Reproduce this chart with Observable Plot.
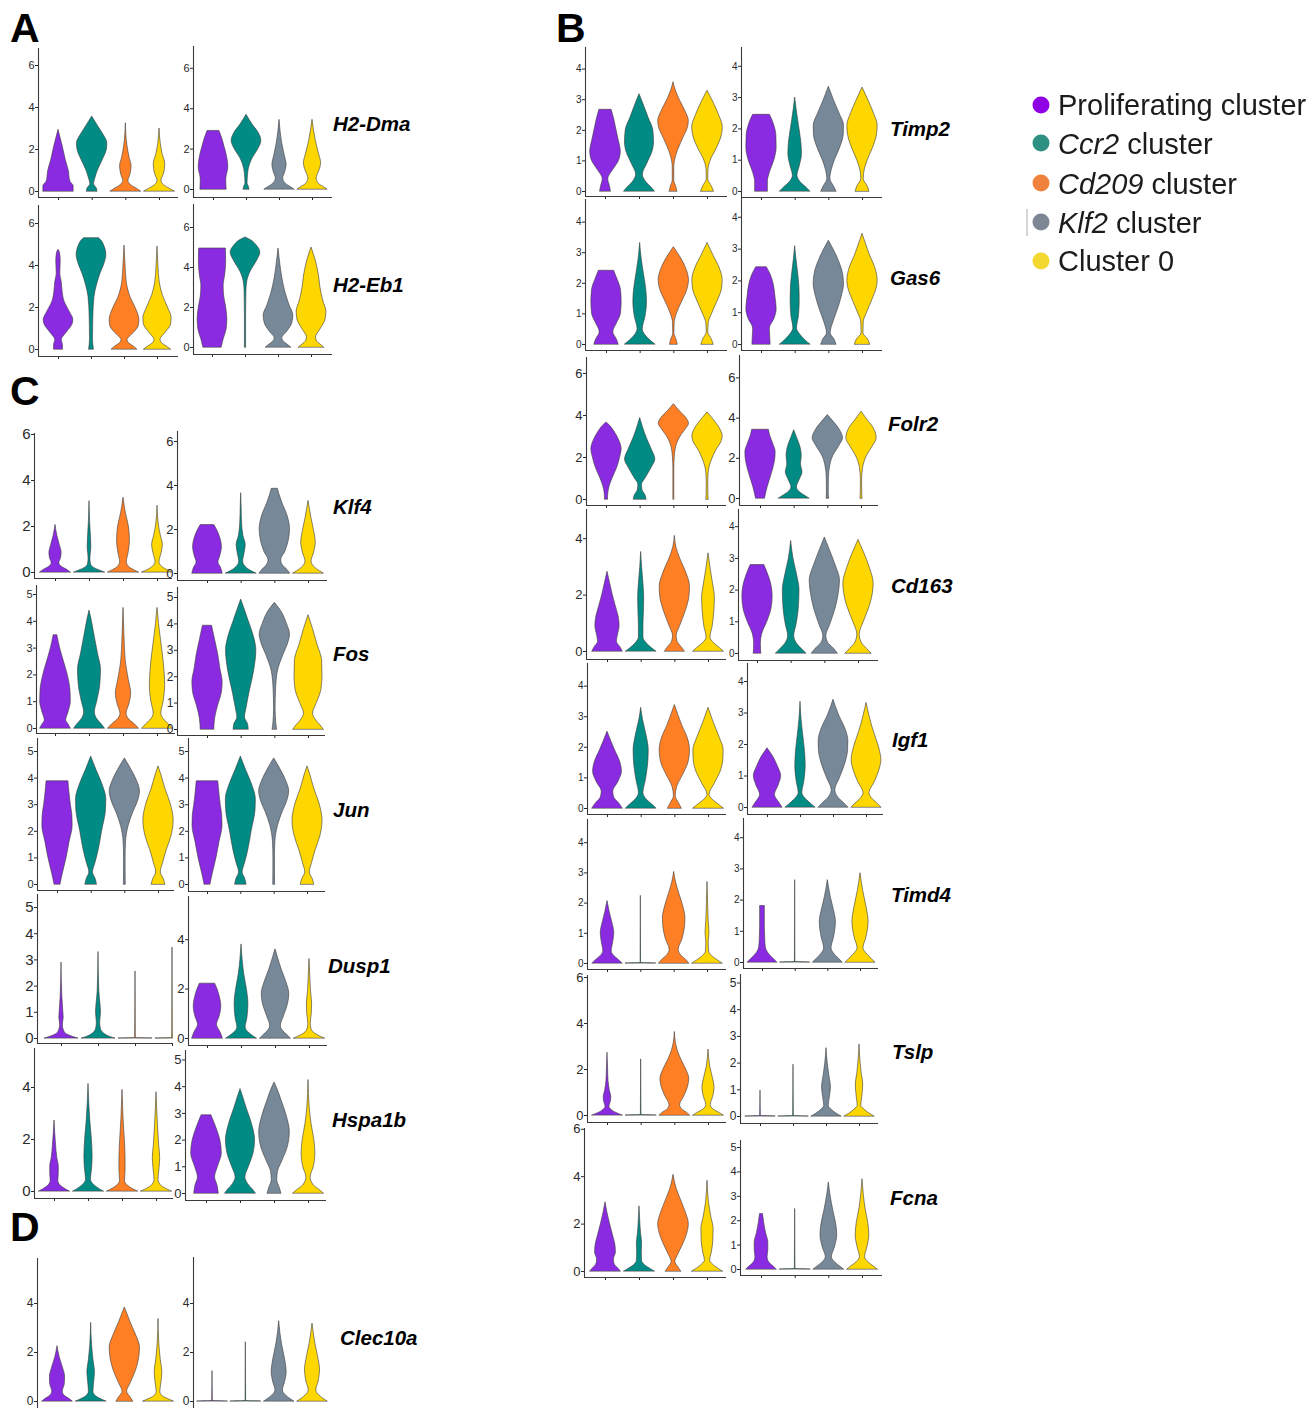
<!DOCTYPE html>
<html>
<head>
<meta charset="utf-8">
<script src="https://cdn.jsdelivr.net/npm/d3@7"></script>
<script src="https://cdn.jsdelivr.net/npm/@observablehq/plot@0.6"></script>
<style>
  body { margin: 0; background: #fff; }
  #fig { position: relative; width: 1313px; height: 1408px; overflow: hidden; background: #fff;
         font-family: "Liberation Sans", Arial, sans-serif; }
  #fig svg.violin { position: absolute; }
  #overlay { position: absolute; left: 0; top: 0; pointer-events: none; }
</style>
</head>
<body>
<div id="fig"></div>
<script>
// ---- clusters ----
const clusters = ["Proliferating cluster", "Ccr2 cluster", "Cd209 cluster", "Klf2 cluster", "Cluster 0"];
const clusterItalic = ["", "Ccr2", "Cd209", "Klf2", ""];
const clusterFill = ["#8a2be2", "#008b84", "#ff7f24", "#778899", "#ffd700"];
const legendFill = ["#8f00e4", "#2e8f83", "#f1823d", "#7d8793", "#f3d832"];

// cluster order used by each side of a gene
const LEFT = [0, 1, 2, 4];
const RIGHT = [0, 1, 3, 4];
const JUN_LEFT = [0, 1, 3, 4];

// y tick values
const ticksEven6 = [0, 2, 4, 6];
const ticksEven4 = [0, 2, 4];
const ticksTo4 = [0, 1, 2, 3, 4];
const ticksTo5 = [0, 1, 2, 3, 4, 5];

// ---- violin profiles: per cluster, [expression level, relative half-width] ----
const h2dmaL = [
  [[0,1],[0.25,1],[0.45,0.8],[0.6,0.74],[0.9,0.7],[1.5,0.48],[2.2,0.26],[2.94,0]],
  [[0,0.35],[0.15,0.3],[0.35,0.12],[0.6,0.2],[1.0,0.38],[1.5,0.7],[2.0,0.97],[2.3,1],[2.7,0.75],[3.1,0.4],[3.57,0]],
  [[0,1],[0.12,0.75],[0.3,0.35],[0.5,0.17],[0.8,0.3],[1.2,0.38],[1.6,0.25],[2.2,0.1],[3.25,0]],
  [[0,1],[0.12,0.7],[0.3,0.3],[0.5,0.13],[0.85,0.3],[1.3,0.38],[1.8,0.2],[2.3,0.08],[3.0,0]]
];
const h2dmaR = [
  [[0,0.88],[0.5,0.86],[1.1,1],[1.6,0.92],[2.1,0.75],[2.5,0.6],[2.9,0.4]],
  [[0,0.2],[0.15,0.15],[0.3,0.07],[0.7,0.1],[1.0,0.15],[1.5,0.38],[2.0,0.8],[2.4,1],[2.8,0.82],[3.2,0.42],[3.7,0]],
  [[0,1],[0.12,0.75],[0.3,0.4],[0.55,0.25],[0.85,0.38],[1.2,0.48],[1.7,0.35],[2.3,0.18],[3.45,0]],
  [[0,1],[0.12,0.75],[0.3,0.4],[0.55,0.28],[0.9,0.45],[1.3,0.58],[1.8,0.42],[2.5,0.2],[3.45,0]]
];
const h2eb1L = [
  [[0,0.3],[0.2,0.3],[0.45,0.22],[0.8,0.55],[1.2,0.95],[1.4,1],[1.8,0.75],[2.3,0.4],[2.8,0.27],[3.2,0.22],[3.6,0.12],[4.2,0.15],[4.6,0.1],[4.75,0]],
  [[0,0.16],[0.5,0.1],[1.5,0.12],[2.5,0.2],[3.1,0.38],[3.6,0.6],[4.1,0.88],[4.5,1],[4.9,0.88],[5.2,0.65],[5.3,0.5]],
  [[0,0.85],[0.15,0.6],[0.3,0.3],[0.45,0.2],[0.7,0.5],[1.1,0.95],[1.4,1],[1.9,0.8],[2.5,0.4],[3.2,0.15],[4.0,0.07],[4.95,0]],
  [[0,0.9],[0.15,0.6],[0.3,0.3],[0.45,0.2],[0.8,0.55],[1.2,0.92],[1.5,0.95],[2.0,0.7],[2.6,0.35],[3.2,0.15],[4.0,0.06],[4.9,0]]
];
const h2eb1R = [
  [[0,0.62],[0.4,0.75],[0.9,0.95],[1.4,1],[2.0,0.92],[2.6,0.78],[3.1,0.75],[3.6,0.85],[4.3,0.92],[4.95,0.9]],
  [[0,0.04],[1.5,0.04],[2.8,0.06],[3.3,0.12],[3.8,0.35],[4.3,0.75],[4.75,1],[5.1,0.75],[5.35,0.4],[5.5,0]],
  [[0,0.85],[0.15,0.6],[0.3,0.35],[0.45,0.25],[0.8,0.6],[1.2,0.92],[1.6,1],[2.1,0.75],[2.8,0.45],[3.5,0.25],[4.3,0.1],[4.95,0]],
  [[0,0.85],[0.15,0.6],[0.3,0.38],[0.5,0.3],[0.9,0.6],[1.4,0.95],[1.8,1],[2.3,0.8],[3.0,0.6],[3.6,0.5],[4.3,0.3],[5.0,0]]
];
const timp2L = [
  [[0,0.35],[0.15,0.3],[0.4,0.18],[0.7,0.5],[1.0,0.88],[1.3,1],[1.7,0.85],[2.1,0.68],[2.4,0.55],[2.67,0.4]],
  [[0,1],[0.12,0.8],[0.3,0.45],[0.55,0.22],[0.9,0.5],[1.3,0.85],[1.6,0.95],[2.0,0.9],[2.4,0.6],[2.8,0.3],[3.18,0]],
  [[0,0.25],[0.15,0.18],[0.35,0.05],[0.8,0.05],[1.2,0.2],[1.7,0.6],[2.1,0.95],[2.3,1],[2.6,0.8],[3.0,0.4],[3.3,0.15],[3.57,0]],
  [[0,0.42],[0.15,0.3],[0.4,0.05],[0.7,0.06],[1.0,0.2],[1.4,0.6],[1.8,0.92],[2.1,1],[2.5,0.75],[2.9,0.4],[3.29,0]]
];
const timp2R = [
  [[0,0.42],[0.3,0.42],[0.6,0.55],[1.0,0.85],[1.4,1],[1.8,0.98],[2.1,0.85],[2.3,0.7],[2.45,0.55]],
  [[0,1],[0.12,0.75],[0.3,0.35],[0.5,0.15],[0.8,0.3],[1.2,0.45],[1.6,0.4],[2.1,0.25],[2.6,0.1],[3.0,0]],
  [[0,0.5],[0.15,0.35],[0.4,0.1],[0.7,0.2],[1.0,0.4],[1.4,0.75],[1.8,0.98],[2.1,1],[2.5,0.7],[2.9,0.35],[3.35,0]],
  [[0,0.45],[0.15,0.35],[0.4,0.08],[0.7,0.15],[1.0,0.35],[1.4,0.7],[1.8,0.95],[2.1,1],[2.5,0.75],[2.9,0.4],[3.32,0]]
];
const gas6L = [
  [[0,0.8],[0.15,0.7],[0.4,0.45],[0.7,0.7],[1.0,0.95],[1.4,1],[1.8,0.95],[2.1,0.75],[2.41,0.5]],
  [[0,1],[0.12,0.7],[0.3,0.35],[0.5,0.17],[0.9,0.35],[1.4,0.45],[1.8,0.4],[2.3,0.25],[2.8,0.1],[3.32,0]],
  [[0,0.25],[0.15,0.18],[0.35,0.04],[0.7,0.05],[1.0,0.2],[1.4,0.55],[1.8,0.9],[2.1,1],[2.5,0.8],[2.8,0.5],[3.18,0]],
  [[0,0.4],[0.15,0.3],[0.4,0.05],[0.7,0.08],[1.0,0.3],[1.4,0.65],[1.8,0.95],[2.1,1],[2.5,0.8],[2.9,0.4],[3.32,0]]
];
const gas6R = [
  [[0,0.6],[0.2,0.58],[0.5,0.55],[0.8,0.85],[1.1,1],[1.5,0.92],[1.9,0.8],[2.2,0.6],[2.43,0.35]],
  [[0,1],[0.12,0.7],[0.3,0.35],[0.5,0.12],[0.9,0.25],[1.4,0.3],[1.8,0.28],[2.3,0.18],[2.7,0.08],[3.09,0]],
  [[0,0.5],[0.15,0.38],[0.35,0.12],[0.7,0.3],[1.1,0.6],[1.5,0.85],[1.9,1],[2.3,0.9],[2.7,0.6],[3.0,0.3],[3.26,0]],
  [[0,0.5],[0.15,0.38],[0.35,0.06],[0.7,0.08],[1.0,0.3],[1.4,0.65],[1.8,0.95],[2.0,1],[2.4,0.85],[2.8,0.5],[3.2,0.2],[3.48,0]]
];
const folr2L = [
  [[0,0.1],[0.3,0.12],[0.6,0.2],[1.0,0.4],[1.5,0.7],[2.0,0.9],[2.4,1],[2.8,0.85],[3.2,0.55],[3.5,0.25],[3.67,0]],
  [[0,0.42],[0.2,0.35],[0.45,0.15],[0.7,0.12],[1.0,0.35],[1.5,0.75],[1.9,1],[2.4,0.75],[2.9,0.45],[3.4,0.2],[3.88,0]],
  [[0,0.03],[1.5,0.03],[2.0,0.06],[2.5,0.15],[3.0,0.45],[3.4,0.85],[3.6,1],[3.9,0.8],[4.2,0.4],[4.54,0]],
  [[0,0.08],[0.2,0.06],[0.8,0.05],[1.3,0.08],[1.8,0.25],[2.3,0.55],[2.8,0.95],[3.0,1],[3.4,0.8],[3.8,0.4],[4.15,0]]
];
const folr2R = [
  [[0,0.3],[0.5,0.45],[1.0,0.65],[1.5,0.85],[2.0,0.98],[2.3,1],[2.7,0.85],[3.1,0.65],[3.42,0.55]],
  [[0,1],[0.12,0.75],[0.3,0.4],[0.55,0.18],[0.9,0.35],[1.3,0.55],[1.7,0.45],[2.1,0.5],[2.6,0.4],[3.0,0.2],[3.4,0]],
  [[0,0.08],[0.3,0.06],[1.0,0.07],[1.6,0.15],[2.1,0.35],[2.6,0.75],[3.0,1],[3.4,0.8],[3.8,0.4],[4.15,0]],
  [[0,0.07],[0.2,0.05],[0.9,0.04],[1.5,0.1],[2.1,0.35],[2.6,0.75],[3.0,1],[3.5,0.8],[3.9,0.4],[4.32,0]]
];
const cd163L = [
  [[0,1],[0.15,0.85],[0.35,0.62],[0.6,0.7],[0.9,0.8],[1.2,0.75],[1.6,0.55],[2.0,0.35],[2.4,0.18],[2.83,0]],
  [[0,1],[0.1,0.75],[0.3,0.35],[0.5,0.15],[0.9,0.15],[1.4,0.18],[1.9,0.2],[2.4,0.15],[3.0,0.06],[3.53,0]],
  [[0,0.65],[0.15,0.45],[0.35,0.18],[0.55,0.12],[0.9,0.35],[1.4,0.7],[1.9,0.95],[2.3,1],[2.8,0.75],[3.3,0.35],[3.7,0.1],[4.1,0]],
  [[0,1],[0.12,0.75],[0.3,0.35],[0.5,0.13],[0.9,0.28],[1.4,0.38],[1.9,0.42],[2.4,0.3],[2.9,0.15],[3.48,0]]
];
const cd163R = [
  [[0,0.25],[0.3,0.22],[0.6,0.3],[1.0,0.65],[1.4,0.92],[1.8,1],[2.2,0.9],[2.5,0.7],[2.79,0.45]],
  [[0,1],[0.12,0.75],[0.3,0.4],[0.55,0.2],[0.9,0.35],[1.4,0.5],[2.0,0.55],[2.5,0.38],[3.0,0.15],[3.55,0]],
  [[0,0.85],[0.15,0.6],[0.35,0.2],[0.55,0.1],[0.9,0.35],[1.4,0.7],[1.9,0.92],[2.3,1],[2.8,0.7],[3.3,0.3],[3.66,0]],
  [[0,0.85],[0.15,0.55],[0.35,0.2],[0.6,0.08],[1.0,0.35],[1.5,0.75],[1.9,0.95],[2.2,1],[2.7,0.75],[3.2,0.35],[3.58,0]]
];
const igf1L = [
  [[0,1],[0.15,0.8],[0.35,0.45],[0.55,0.38],[0.85,0.7],[1.2,0.95],[1.5,0.85],[1.9,0.5],[2.2,0.25],[2.51,0]],
  [[0,1],[0.12,0.75],[0.3,0.35],[0.5,0.15],[0.9,0.3],[1.4,0.45],[1.9,0.5],[2.4,0.35],[2.9,0.12],[3.29,0]],
  [[0,0.45],[0.15,0.3],[0.4,0.06],[0.7,0.15],[1.1,0.55],[1.5,0.9],[1.9,1],[2.3,0.85],[2.7,0.5],[3.1,0.2],[3.38,0]],
  [[0,1],[0.12,0.7],[0.3,0.25],[0.45,0.07],[0.8,0.4],[1.2,0.8],[1.6,0.98],[1.9,1],[2.3,0.75],[2.8,0.35],[3.29,0]]
];
const igf1R = [
  [[0,1],[0.15,0.8],[0.4,0.5],[0.7,0.75],[1.0,0.92],[1.3,0.7],[1.6,0.4],[1.88,0]],
  [[0,1],[0.12,0.7],[0.3,0.3],[0.45,0.12],[0.8,0.25],[1.3,0.35],[1.8,0.3],[2.3,0.18],[2.8,0.07],[3.36,0]],
  [[0,1],[0.12,0.75],[0.3,0.35],[0.55,0.12],[0.9,0.4],[1.4,0.8],[1.8,0.98],[2.1,1],[2.5,0.8],[2.9,0.4],[3.42,0]],
  [[0,1],[0.12,0.75],[0.3,0.35],[0.45,0.2],[0.8,0.55],[1.2,0.88],[1.5,1],[1.9,0.85],[2.4,0.5],[2.9,0.2],[3.32,0]]
];
const timd4L = [
  [[0,1],[0.12,0.75],[0.25,0.45],[0.4,0.28],[0.7,0.38],[1.0,0.45],[1.4,0.3],[1.7,0.15],[2.07,0]],
  [[0,1],[0.015,0.015],[2.24,0]],
  [[0,1],[0.12,0.8],[0.25,0.5],[0.45,0.3],[0.8,0.55],[1.2,0.72],[1.5,0.75],[1.9,0.6],[2.3,0.35],[2.7,0.12],[3.03,0]],
  [[0,1],[0.1,0.7],[0.25,0.3],[0.4,0.1],[0.7,0.08],[1.0,0.13],[1.4,0.08],[2.0,0.04],[2.7,0]]
];
const timd4R = [
  [[0,1],[0.12,0.75],[0.3,0.4],[0.5,0.22],[0.8,0.18],[1.2,0.16],[1.5,0.16],[1.81,0.16]],
  [[0,1],[0.015,0.015],[2.64,0]],
  [[0,1],[0.12,0.75],[0.3,0.4],[0.45,0.25],[0.8,0.42],[1.3,0.55],[1.7,0.4],[2.1,0.2],[2.64,0]],
  [[0,1],[0.12,0.75],[0.3,0.38],[0.45,0.2],[0.8,0.4],[1.3,0.55],[1.8,0.4],[2.3,0.18],[2.86,0]]
];
const tslpL = [
  [[0,1],[0.08,0.7],[0.2,0.35],[0.38,0.13],[0.6,0.22],[0.8,0.25],[1.1,0.15],[1.5,0.07],[2.0,0.04],[2.73,0]],
  [[0,1],[0.02,0.02],[2.44,0]],
  [[0,1],[0.12,0.8],[0.25,0.5],[0.45,0.35],[0.8,0.6],[1.2,0.85],[1.6,0.95],[2.0,0.75],[2.4,0.45],[2.8,0.2],[3.2,0.06],[3.63,0]],
  [[0,1],[0.1,0.75],[0.25,0.35],[0.45,0.15],[0.8,0.3],[1.2,0.4],[1.6,0.3],[2.1,0.12],[2.87,0]]
];
const tslpR = [
  [[0,1],[0.02,0.02],[0.97,0]],
  [[0,1],[0.02,0.02],[1.94,0]],
  [[0,1],[0.1,0.7],[0.25,0.35],[0.4,0.15],[0.7,0.22],[1.1,0.3],[1.5,0.2],[2.0,0.08],[2.56,0]],
  [[0,1],[0.1,0.7],[0.25,0.35],[0.4,0.12],[0.7,0.18],[1.2,0.25],[1.6,0.15],[2.1,0.06],[2.7,0]]
];
const fcnaL = [
  [[0,1],[0.12,0.85],[0.3,0.6],[0.5,0.55],[0.8,0.68],[1.1,0.65],[1.5,0.5],[2.0,0.3],[2.5,0.12],[2.92,0]],
  [[0,1],[0.1,0.75],[0.25,0.38],[0.45,0.17],[0.8,0.15],[1.2,0.17],[1.6,0.1],[2.1,0.05],[2.75,0]],
  [[0,0.5],[0.15,0.35],[0.4,0.12],[0.7,0.3],[1.1,0.6],[1.6,0.9],[2.0,1],[2.5,0.8],[3.0,0.5],[3.5,0.2],[4.08,0]],
  [[0,1],[0.12,0.7],[0.3,0.35],[0.45,0.17],[0.8,0.28],[1.3,0.38],[1.8,0.4],[2.3,0.25],[2.9,0.1],[3.83,0]]
];
const fcnaR = [
  [[0,1],[0.12,0.8],[0.3,0.5],[0.5,0.4],[0.8,0.45],[1.1,0.45],[1.5,0.3],[1.9,0.18],[2.27,0.1]],
  [[0,1],[0.02,0.02],[2.48,0]],
  [[0,1],[0.12,0.75],[0.3,0.4],[0.5,0.2],[0.9,0.4],[1.4,0.55],[1.8,0.5],[2.4,0.3],[3.0,0.12],[3.57,0]],
  [[0,1],[0.12,0.75],[0.3,0.38],[0.5,0.17],[0.9,0.32],[1.4,0.45],[1.9,0.38],[2.5,0.2],[3.1,0.08],[3.7,0]]
];
const klf4L = [
  [[0,1],[0.1,0.8],[0.25,0.4],[0.4,0.25],[0.6,0.35],[0.85,0.4],[1.2,0.28],[1.6,0.12],[2.07,0]],
  [[0,1],[0.08,0.7],[0.2,0.3],[0.35,0.1],[0.6,0.06],[1.1,0.12],[1.5,0.1],[2.2,0.04],[3.1,0]],
  [[0,1],[0.1,0.7],[0.25,0.35],[0.45,0.22],[0.8,0.32],[1.4,0.42],[2.0,0.35],[2.6,0.15],[3.25,0]],
  [[0,1],[0.1,0.65],[0.25,0.3],[0.45,0.13],[0.8,0.25],[1.2,0.35],[1.6,0.22],[2.1,0.08],[2.9,0]]
];
const klf4R = [
  [[0,1],[0.25,0.9],[0.5,0.72],[0.8,0.85],[1.2,0.95],[1.6,0.85],[1.95,0.65],[2.2,0.45]],
  [[0,1],[0.1,0.7],[0.3,0.3],[0.55,0.13],[0.9,0.22],[1.3,0.3],[1.7,0.15],[2.3,0.06],[3.0,0.03],[3.65,0]],
  [[0,1],[0.15,0.85],[0.35,0.55],[0.6,0.42],[1.0,0.7],[1.5,0.92],[2.0,1],[2.6,0.85],[3.2,0.5],[3.6,0.3],[3.85,0.2]],
  [[0,1],[0.1,0.75],[0.3,0.38],[0.55,0.2],[0.9,0.35],[1.4,0.48],[1.9,0.38],[2.5,0.2],[3.3,0]]
];
const fosL = [
  [[0,1],[0.15,0.85],[0.3,0.7],[0.6,0.85],[1.0,1],[1.4,0.98],[2.0,0.8],[2.5,0.55],[3.0,0.3],[3.48,0.12]],
  [[0,1],[0.15,0.8],[0.35,0.5],[0.6,0.35],[1.0,0.5],[1.6,0.7],[2.2,0.75],[2.8,0.55],[3.5,0.32],[4.1,0.12],[4.4,0]],
  [[0,1],[0.15,0.75],[0.35,0.35],[0.55,0.2],[0.9,0.38],[1.3,0.5],[1.8,0.35],[2.5,0.15],[3.5,0.06],[4.5,0]],
  [[0,1],[0.15,0.75],[0.35,0.4],[0.55,0.25],[1.0,0.4],[1.6,0.5],[2.4,0.42],[3.2,0.25],[3.9,0.1],[4.5,0]]
];
const fosR = [
  [[0,0.45],[0.4,0.5],[0.9,0.7],[1.4,0.95],[1.8,1],[2.3,0.85],[2.8,0.72],[3.4,0.5],[3.93,0.3]],
  [[0,0.5],[0.2,0.45],[0.45,0.25],[0.8,0.35],[1.4,0.55],[2.2,0.85],[3.0,1],[3.5,0.85],[4.1,0.5],[4.6,0.2],[4.92,0]],
  [[0,0.15],[0.2,0.1],[0.8,0.05],[1.5,0.08],[2.2,0.2],[2.8,0.55],[3.3,0.9],[3.6,1],[4.0,0.8],[4.5,0.4],[4.8,0]],
  [[0,1],[0.15,0.8],[0.35,0.5],[0.6,0.3],[1.0,0.55],[1.5,0.85],[2.0,0.92],[2.6,0.9],[3.2,0.6],[3.8,0.3],[4.33,0]]
];
const jun = [
  [[0,0.2],[0.4,0.35],[1.0,0.6],[1.6,0.8],[2.2,1],[2.6,0.98],[3.0,0.88],[3.5,0.78],[3.88,0.72]],
  [[0,0.38],[0.2,0.3],[0.45,0.12],[0.8,0.28],[1.3,0.5],[2.0,0.72],[2.8,0.98],[3.2,1],[3.8,0.72],[4.3,0.35],[4.81,0]],
  [[0,0.06],[1.0,0.05],[1.6,0.08],[2.2,0.25],[2.7,0.55],[3.1,0.85],[3.5,1],[3.9,0.8],[4.3,0.45],[4.74,0]],
  [[0,0.45],[0.2,0.35],[0.45,0.15],[0.8,0.3],[1.3,0.55],[1.8,0.85],[2.4,1],[3.0,0.82],[3.6,0.45],[4.1,0.2],[4.44,0]]
];
const dusp1L = [
  [[0,1],[0.06,0.7],[0.15,0.35],[0.3,0.15],[0.5,0.08],[0.8,0.13],[1.1,0.1],[1.6,0.05],[2.9,0]],
  [[0,1],[0.06,0.7],[0.18,0.35],[0.35,0.15],[0.6,0.1],[1.0,0.15],[1.3,0.12],[1.8,0.05],[3.3,0]],
  [[0,1],[0.02,0.02],[2.56,0]],
  [[0,1],[0.02,0.02],[3.47,0]]
];
const dusp1R = [
  [[0,1],[0.25,0.85],[0.55,0.62],[0.9,0.8],[1.3,0.9],[1.7,0.8],[2.0,0.65],[2.22,0.5]],
  [[0,1],[0.1,0.75],[0.25,0.45],[0.45,0.27],[0.8,0.38],[1.4,0.45],[2.0,0.35],[2.6,0.18],[3.2,0.07],[3.81,0]],
  [[0,1],[0.12,0.8],[0.3,0.5],[0.5,0.35],[0.9,0.55],[1.4,0.82],[1.8,0.9],[2.3,0.7],[2.8,0.4],[3.3,0.15],[3.61,0]],
  [[0,1],[0.08,0.7],[0.2,0.35],[0.4,0.12],[0.6,0.08],[1.0,0.15],[1.4,0.17],[1.9,0.1],[2.5,0.05],[3.22,0]]
];
const hspa1bL = [
  [[0,1],[0.08,0.75],[0.2,0.45],[0.4,0.25],[0.7,0.28],[0.95,0.28],[1.3,0.18],[1.8,0.1],[2.73,0]],
  [[0,1],[0.08,0.75],[0.22,0.42],[0.45,0.16],[0.8,0.22],[1.3,0.27],[2.0,0.22],[2.7,0.12],[3.4,0.05],[4.14,0]],
  [[0,1],[0.08,0.72],[0.2,0.4],[0.4,0.16],[0.8,0.2],[1.3,0.2],[2.0,0.15],[2.8,0.07],[3.91,0]],
  [[0,1],[0.08,0.7],[0.2,0.35],[0.45,0.13],[0.9,0.2],[1.3,0.24],[1.8,0.17],[2.5,0.1],[3.2,0.04],[3.82,0]]
];
const hspa1bR = [
  [[0,0.8],[0.3,0.72],[0.6,0.56],[1.0,0.75],[1.5,1],[2.0,0.9],[2.5,0.62],[2.93,0.32]],
  [[0,1],[0.15,0.8],[0.35,0.5],[0.6,0.32],[1.0,0.55],[1.5,0.85],[2.0,0.95],[2.6,0.75],[3.2,0.4],[3.6,0.18],[3.91,0]],
  [[0,0.45],[0.2,0.35],[0.5,0.18],[0.8,0.22],[1.2,0.5],[1.7,0.85],[2.3,1],[2.9,0.8],[3.5,0.45],[3.9,0.2],[4.16,0]],
  [[0,1],[0.12,0.75],[0.3,0.35],[0.6,0.14],[1.0,0.35],[1.5,0.45],[2.0,0.38],[2.6,0.2],[3.2,0.08],[4.25,0]]
];
const clec10aL = [
  [[0,1],[0.1,0.8],[0.22,0.5],[0.4,0.35],[0.7,0.48],[1.0,0.5],[1.4,0.35],[1.8,0.15],[2.26,0]],
  [[0,1],[0.08,0.7],[0.2,0.35],[0.4,0.15],[0.8,0.2],[1.2,0.25],[1.7,0.15],[2.3,0.06],[3.21,0]],
  [[0,0.55],[0.15,0.4],[0.4,0.15],[0.7,0.35],[1.2,0.7],[1.8,0.95],[2.2,1],[2.7,0.75],[3.2,0.4],[3.6,0.15],[3.84,0]],
  [[0,1],[0.08,0.7],[0.2,0.3],[0.4,0.12],[0.8,0.2],[1.2,0.25],[1.7,0.15],[2.4,0.05],[3.37,0]]
];
const clec10aR = [
  [[0,1],[0.02,0.02],[1.24,0]],
  [[0,1],[0.02,0.02],[2.42,0]],
  [[0,1],[0.1,0.75],[0.25,0.45],[0.45,0.25],[0.8,0.4],[1.2,0.5],[1.7,0.4],[2.3,0.2],[2.8,0.08],[3.28,0]],
  [[0,1],[0.1,0.75],[0.25,0.45],[0.45,0.25],[0.8,0.4],[1.3,0.5],[1.8,0.38],[2.4,0.18],[2.8,0.08],[3.18,0]]
];

// ---- page layout of each violin panel ----
// box: [axis left, axis right, axis top, axis bottom, pixel of 0, px per unit, first centre, last centre]
const layout = [
  { v: h2dmaL,  g: LEFT,  t: ticksEven6, box: [38, 178, 48, 197, 191, 21, 58, 159],   fs: 11 },
  { v: h2dmaR,  g: RIGHT, t: ticksEven6, box: [193, 332, 46, 197, 189, 20.2, 213, 312], fs: 11 },
  { v: h2eb1L,  g: LEFT,  t: ticksEven6, box: [38, 178, 205, 356, 349, 21, 58, 157],  fs: 11 },
  { v: h2eb1R,  g: RIGHT, t: ticksEven6, box: [193, 332, 204, 354, 347, 20, 212, 311], fs: 11 },

  { v: timp2L,  g: LEFT,  t: ticksTo4,   box: [585, 727, 47, 196, 191, 30.6, 605, 707], fs: 10 },
  { v: timp2R,  g: RIGHT, t: ticksTo4,   box: [741, 882, 47, 197, 191, 31.3, 761, 862], fs: 10 },
  { v: gas6L,   g: LEFT,  t: ticksTo4,   box: [585, 727, 199, 350, 344, 30.6, 606, 707], fs: 10 },
  { v: gas6R,   g: RIGHT, t: ticksTo4,   box: [741, 882, 198, 350, 344, 31.8, 761, 862], fs: 10 },
  { v: folr2L,  g: LEFT,  t: ticksEven6, box: [586, 726, 357, 505, 499, 21, 606, 707],  fs: 13 },
  { v: folr2R,  g: RIGHT, t: ticksEven6, box: [739, 878, 355, 505, 498, 20.1, 760, 861], fs: 13 },
  { v: cd163L,  g: LEFT,  t: ticksEven4, box: [586, 726, 509, 659, 651, 28.2, 607, 708], fs: 13 },
  { v: cd163R,  g: RIGHT, t: ticksTo4,   box: [738, 878, 509, 660, 653, 31.7, 757, 858], fs: 10 },
  { v: igf1L,   g: LEFT,  t: ticksTo4,   box: [587, 726, 663, 814, 808, 30.6, 607, 708], fs: 10 },
  { v: igf1R,   g: RIGHT, t: ticksTo4,   box: [747, 883, 663, 814, 807, 31.5, 767, 866], fs: 10 },
  { v: timd4L,  g: LEFT,  t: ticksTo4,   box: [587, 726, 819, 969, 963, 30.2, 607, 707], fs: 10 },
  { v: timd4R,  g: RIGHT, t: ticksTo4,   box: [743, 878, 818, 968, 962, 31.2, 762, 860], fs: 10 },
  { v: tslpL,   g: LEFT,  t: ticksEven6, box: [587, 726, 975, 1122, 1115, 23, 607, 708], fs: 13 },
  { v: tslpR,   g: RIGHT, t: ticksTo5,   box: [740, 878, 974, 1123, 1116, 26.7, 760, 859], fs: 12 },
  { v: fcnaL,   g: LEFT,  t: ticksEven6, box: [584, 726, 1128, 1277, 1271, 23.7, 605, 707], fs: 13 },
  { v: fcnaR,   g: RIGHT, t: ticksTo5,   box: [740, 882, 1140, 1275, 1269, 24.4, 761, 862], fs: 11 },

  { v: klf4L,   g: LEFT,  t: ticksEven6, box: [34, 172, 433, 578, 572, 23, 55, 157],   fs: 15 },
  { v: klf4R,   g: RIGHT, t: ticksEven6, box: [177, 327, 431, 580, 573, 22, 207, 308],  fs: 13 },
  { v: fosL,    g: LEFT,  t: ticksTo5,   box: [36, 175, 585, 733, 728, 26.8, 55, 157],  fs: 11 },
  { v: fosR,    g: RIGHT, t: ticksTo5,   box: [177, 325, 587, 735, 729, 26.4, 207, 308], fs: 12 },
  { v: jun,     g: JUN_LEFT, t: ticksTo5, box: [37, 174, 738, 890, 884, 26.6, 57, 158],  fs: 11 },
  { v: jun,     g: RIGHT, t: ticksTo5,   box: [188, 325, 738, 891, 884, 26.6, 207, 307], fs: 11 },
  { v: dusp1L,  g: LEFT,  t: ticksTo5,   box: [37, 173, 894, 1043, 1038, 26.2, 61, 172], fs: 15 },
  { v: dusp1R,  g: RIGHT, t: ticksEven4, box: [188, 327, 896, 1045, 1038, 24.7, 207, 309], fs: 13 },
  { v: hspa1bL, g: LEFT,  t: ticksEven4, box: [34, 173, 1048, 1198, 1191, 26, 54, 156], fs: 15 },
  { v: hspa1bR, g: RIGHT, t: ticksTo5,   box: [185, 326, 1050, 1200, 1193, 26.7, 206, 308], fs: 13 },

  { v: clec10aL, g: LEFT,  t: ticksEven4, box: [37, 175, 1258, 1409, 1401, 24.5, 57, 158], fs: 12 },
  { v: clec10aR, g: RIGHT, t: ticksEven4, box: [193, 330, 1257, 1409, 1401, 24.5, 212, 312], fs: 12 }
];

// gene names beside each pair of panels: [name, x, baseline]
const geneLabels = [
  ["H2-Dma", 333, 131], ["H2-Eb1", 333, 292],
  ["Timp2", 890, 136], ["Gas6", 890, 285], ["Folr2", 888, 431], ["Cd163", 891, 593],
  ["Igf1", 892, 747], ["Timd4", 891, 902], ["Tslp", 892, 1059], ["Fcna", 890, 1205],
  ["Klf4", 333, 514], ["Fos", 333, 661], ["Jun", 333, 817], ["Dusp1", 328, 973], ["Hspa1b", 332, 1127],
  ["Clec10a", 340, 1345]
];
const panelLetters = [["A", 10, 42], ["B", 556, 42], ["C", 10, 405], ["D", 10, 1241]];

const fig = document.getElementById("fig");
const ML = 30, MR = 3, MT = 12, MB = 8;

for (const p of layout) {
  const [L, R, T, B, y0, unit, c1, c4] = p.box;
  const sp = (c4 - c1) / 3;
  const xDomain = [1 - (c1 - L) / sp, 4 + (R - c4) / sp];
  const yDomain = [-(B - y0) / unit, (y0 - T) / unit];
  const marks = p.v.map((knots, i) => {
    const rows = knots.map(([y, w]) => ({ y, w }));
    return Plot.areaX(rows, {
      y: "y",
      x1: d => i + 1 - 0.45 * d.w,
      x2: d => i + 1 + 0.45 * d.w,
      fill: clusterFill[p.g[i]],
      stroke: "#3a3a3a",
      strokeWidth: 0.6,
      curve: "monotone-y",
      clip: true
    });
  });
  marks.push(Plot.ruleX([xDomain[0]], { stroke: "#3a3a3a", strokeWidth: 1.1 }));
  marks.push(Plot.ruleY([yDomain[0]], { stroke: "#3a3a3a", strokeWidth: 1.1 }));
  const svg = Plot.plot({
    width: R - L + ML + MR,
    height: B - T + MT + MB,
    marginLeft: ML, marginRight: MR, marginTop: MT, marginBottom: MB,
    x: { domain: xDomain, ticks: [1, 2, 3, 4], tickFormat: () => "", tickSize: 3, label: null },
    y: { domain: yDomain, ticks: p.t, tickSize: 3, tickPadding: 1, tickFormat: d3.format("d"), label: null },
    style: { fontFamily: "'Liberation Sans', Arial, sans-serif", fontSize: p.fs + "px", color: "#2a2a2a",
             background: "none", overflow: "visible" },
    marks
  });
  svg.classList.add("violin");
  svg.style.left = (L - ML) + "px";
  svg.style.top = (T - MT) + "px";
  fig.appendChild(svg);
}

// text layer: panel letters, gene names, cluster legend
const overlay = d3.select(fig).append("svg")
  .attr("id", "overlay").attr("width", 1313).attr("height", 1408)
  .style("font-family", "'Liberation Sans', Arial, sans-serif");

overlay.selectAll("text.letter").data(panelLetters).join("text")
  .attr("class", "letter").attr("x", d => d[1]).attr("y", d => d[2])
  .attr("font-size", 41).attr("font-weight", "bold").text(d => d[0]);

overlay.selectAll("text.gene").data(geneLabels).join("text")
  .attr("class", "gene").attr("x", d => d[1]).attr("y", d => d[2])
  .attr("font-size", 20.5).attr("font-weight", "bold").attr("font-style", "italic").text(d => d[0]);

const defs = overlay.append("defs");
defs.append("filter").attr("id", "soft").append("feGaussianBlur").attr("stdDeviation", 0.55);

const legendRows = [[105, 115], [143, 154], [183, 194], [222, 233], [261, 271]];
const legend = overlay.append("g").attr("filter", "url(#soft)");
clusters.forEach((name, i) => {
  const [cy, base] = legendRows[i];
  legend.append("circle").attr("cx", 1041).attr("cy", cy).attr("r", 8.5).attr("fill", legendFill[i]);
  const t = legend.append("text").attr("x", 1058).attr("y", base).attr("font-size", 29).attr("fill", "#1a1a1a");
  const it = clusterItalic[i];
  if (it) {
    t.append("tspan").attr("font-style", "italic").text(it);
    t.append("tspan").text(name.slice(it.length));
  } else {
    t.text(name);
  }
});
legend.append("line").attr("x1", 1027).attr("x2", 1027).attr("y1", 209).attr("y2", 236)
  .attr("stroke", "#aaa").attr("stroke-width", 1);
</script>
</body>
</html>
